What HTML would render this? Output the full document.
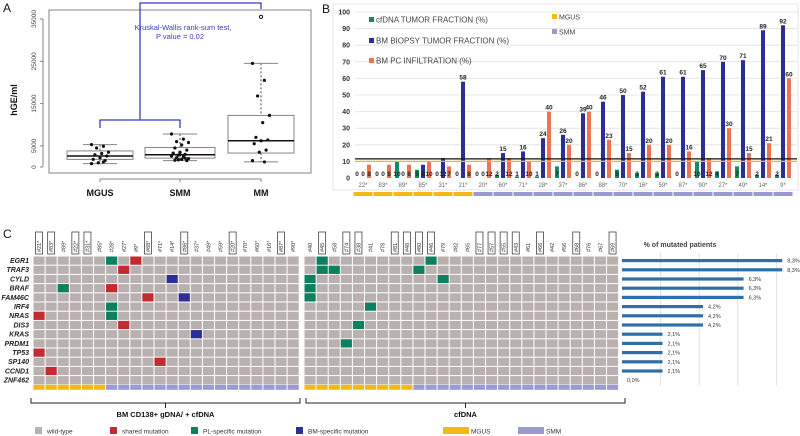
<!DOCTYPE html>
<html><head><meta charset="utf-8"><style>
body{margin:0;background:#fff}
svg{display:block;font-family:"Liberation Sans",Arial,sans-serif}
</style></head><body>
<svg id="fig" width="800" height="436" viewBox="0 0 800 436" xmlns="http://www.w3.org/2000/svg">
<g id="pA"></g>
<g id="pB"></g>
<g id="pC"></g>
</svg>
<script>
// ---------- Panel A data ----------
const aGroups = ["MGUS","SMM","MM"];
const aQ1 = [1800,2100,3300];
const aMed = [2600,2900,6200];
const aQ3 = [3800,4600,12200];
const aWlo = [800,1500,1200];
const aWhi = [5300,7800,24500];
const aPtsMGUS = [5300,4900,4500,3500,3200,2900,2600,2200,1800,1500,1000,800,1200];
const aPtsSMM = [7800,6600,6000,5800,5200,4500,4000,3500,3200,3000,2800,2600,2400,2200,2000,1800,1600,1500,2900,3300,2100,1700];
const aPtsMM = [24500,20500,16800,12200,10500,7000,6400,6200,5500,4000,3500,1500,1200];
const aOutliers = [0,0,35500];
const aTicks = [0,5000,15000,25000,35000];

// ---------- Panel B data ----------
const bCats = ["22*","83*","89*","85*","31*","21*","20*","60*","71*","28*","37*","86*","88*","70*","16*","59*","87*","90*","27*","49*","14*","9*"];
const bCfDNA = [0,0,10,5,0,0,0,2,1,1,7,0,0,5,3,3,0,10,4,7,2,2];
const bBM = [0,0,0,8,12,58,0,15,16,24,26,39,46,50,52,61,61,65,70,71,89,92];
const bPC = [8,8,8,10,7,8,12,12,10,40,20,40,23,15,20,20,16,12,30,15,21,60];
const bGroup = ["M","M","M","M","M","M","S","S","S","S","S","S","S","S","S","S","S","S","S","S","S","S"];
const bTicks = [0,10,20,30,40,50,60,70,80,90,100];
const bRefBlack = 11.5, bRefOrange = 10;

// ---------- Panel C data ----------
const cGenes = ["EGR1","TRAF3","CYLD","BRAF","FAM46C","IRF4","NRAS","DIS3","KRAS","PRDM1","TP53","SP140","CCND1","ZNF462"];
const cLeftPts = ["#21*","#83*","#89*","#22*","#31*","#85*","#28*","#27*","#9*","#88*","#71*","#14*","#86*","#37*","#49*","#59*","#20*","#70*","#60*","#16*","#87*","#90*"];
const cLeftBoxed = [0,1,3,4,9,12,16,20];
const cRightPts = ["#40","#45","#58","#74","#38","#41","#78","#81","#48","#80","#46","#79","#82","#65","#77","#57","#55","#43","#61","#66","#42","#56","#68","#76","#67","#69"];
const cRightBoxed = [1,3,4,7,8,9,10,14,15,16,17,19,22,25];
const cLeftMGUS = 6, cRightMGUS = 9;
const cLeftMut = [[0,6,"g"],[0,8,"r"],[1,7,"r"],[2,11,"b"],[3,2,"g"],[3,6,"r"],[4,9,"r"],[4,12,"b"],[5,6,"g"],[6,0,"r"],[6,6,"g"],[7,7,"r"],[8,13,"b"],[10,0,"r"],[11,10,"r"],[12,1,"r"]];
const cRightMut = [[0,1,"g"],[0,10,"g"],[1,1,"g"],[1,2,"g"],[1,9,"g"],[2,0,"g"],[2,11,"g"],[3,0,"g"],[4,0,"g"],[5,5,"g"],[7,4,"g"],[9,3,"g"]];
const cPct = [8.3,8.3,6.3,6.3,6.3,4.2,4.2,4.2,2.1,2.1,2.1,2.1,2.1,0.0];

const NS="http://www.w3.org/2000/svg";
function mk(parent,tag,attrs,text){const e=document.createElementNS(NS,tag);for(const k in attrs)e.setAttribute(k,attrs[k]);if(text!==undefined)e.textContent=text;parent.appendChild(e);return e;}

// ---------- Panel A ----------
const A=document.getElementById('pA');
const yA=v=>167-v*148/35000;
const xA=[100,180,261];
let t=mk(A,'text',{x:3,y:12,'font-size':12,fill:'#111'},'A');

let fr=mk(A,'rect',{x:49,y:10,width:262,height:163,fill:'none',stroke:'#8a8282','stroke-width':1});

mk(A,'line',{x1:43,x2:43,y1:yA(0),y2:yA(35000),stroke:'#8a8282'});
aTicks.forEach(v=>{
  mk(A,'line',{x1:40,x2:43,y1:yA(v),y2:yA(v),stroke:'#8a8282'});
  const tl=mk(A,'text',{x:36,y:yA(v),'font-size':6.5,fill:'#444','text-anchor':'middle',transform:`rotate(-90 36 ${yA(v)})`},String(v));
  
});
t=mk(A,'text',{x:17,y:100,'font-size':9,'font-weight':'bold',fill:'#111','text-anchor':'middle',transform:'rotate(-90 17 100)'},'hGE/ml');

mk(A,'line',{x1:xA[0],x2:xA[2],y1:179,y2:179,stroke:'#8a8282'});
const ptsA=[aPtsMGUS,aPtsSMM,aPtsMM];
aGroups.forEach((g,i)=>{
  const x=xA[i],hw=[33,35,33][i];
  mk(A,'line',{x1:x,x2:x,y1:179,y2:182,stroke:'#8a8282'});
  const gl=mk(A,'text',{x:x,y:196,'font-size':9,'font-weight':'bold','text-anchor':'middle',fill:'#111'},g);
  
  mk(A,'line',{x1:x,x2:x,y1:yA(aWhi[i]),y2:yA(aQ3[i]),stroke:'#444','stroke-dasharray':'2,2'});
  mk(A,'line',{x1:x,x2:x,y1:yA(aQ1[i]),y2:yA(aWlo[i]),stroke:'#444','stroke-dasharray':'2,2'});
  mk(A,'line',{x1:x-17,x2:x+17,y1:yA(aWhi[i]),y2:yA(aWhi[i]),stroke:'#8a8282'});
  mk(A,'line',{x1:x-17,x2:x+17,y1:yA(aWlo[i]),y2:yA(aWlo[i]),stroke:'#8a8282'});
  const b=mk(A,'rect',{x:x-hw,y:yA(aQ3[i]),width:hw*2,height:yA(aQ1[i])-yA(aQ3[i]),fill:'#fff',stroke:'#8a8282'});
  
  mk(A,'line',{x1:x-hw,x2:x+hw,y1:yA(aMed[i]),y2:yA(aMed[i]),stroke:'#111','stroke-width':1.5});
  ptsA[i].forEach((v,j)=>{
    const dx=((j*7)%11-5)*1.7;
    const p=mk(A,'circle',{cx:x+dx,cy:yA(v),r:1.6,fill:'#111'});
    
  });
  if(aOutliers[i]){const o=mk(A,'circle',{cx:x,cy:yA(aOutliers[i]),r:1.6,fill:'#fff',stroke:'#111'});}
});
const br=mk(A,'path',{d:`M100 128 V120 H180 V128 M140 120 V3 H261 V9`,fill:'none',stroke:'#3b3bbd','stroke-width':1.3});

t=mk(A,'text',{x:183,y:30,'font-size':7.5,fill:'#3b3bbd','text-anchor':'middle'},'Kruskal-Wallis rank-sum test,');

t=mk(A,'text',{x:180,y:39,'font-size':7.5,fill:'#3b3bbd','text-anchor':'middle'},'P value = 0.02');


// ---------- Panel B ----------
const B=document.getElementById('pB');
const yB=v=>178-v*1.66;
const xB=i=>363+i*20;
t=mk(B,'text',{x:322,y:13,'font-size':12,fill:'#111'},'B');

mk(B,'rect',{x:333,y:4,width:465,height:186,fill:'none',stroke:'#e6e6e6'});
bTicks.forEach(v=>{
  if(v>0)mk(B,'line',{x1:355,x2:797,y1:yB(v),y2:yB(v),stroke:'#e4e4e4'});
  const tl=mk(B,'text',{x:350,y:yB(v)+2.5,'font-size':7,'font-weight':'bold',fill:'#333','text-anchor':'end'},String(v));
  
});
bCats.forEach((c,i)=>{
  const x=xB(i);
  const series=[[bCfDNA[i],-6,'#18886a','bar-cfdna'],[bBM[i],0,'#2b2e96','bar-bm-biopsy'],[bPC[i],6,'#ee7355','bar-pc-infiltration']];
  series.forEach(([v,o,col,nm])=>{
    const r=mk(B,'rect',{x:x+o-2,y:yB(v),width:4,height:Math.max(0,178-yB(v)),fill:col});
    
    const vl=mk(B,'text',{x:x+o,y:v>12?yB(v)-2:176,'font-size':6.5,'font-weight':'bold',fill:'#222','text-anchor':'middle'},String(v));
    
  });
  const cl=mk(B,'text',{x:x,y:187,'font-size':6,fill:'#666','text-anchor':'middle'},c);
  
  const s=mk(B,'rect',{x:x-9.5,y:192,width:19,height:4,fill:bGroup[i]==='M'?'#f7b813':'#9b98d6'});
  
});
let rl=mk(B,'line',{x1:355,x2:797,y1:yB(bRefBlack),y2:yB(bRefBlack),stroke:'#111','stroke-width':1.2});

rl=mk(B,'line',{x1:355,x2:797,y1:yB(bRefOrange),y2:yB(bRefOrange),stroke:'#f7b813','stroke-width':1.2});

[['cfDNA TUMOR FRACTION (%)','#18886a',21],['BM BIOPSY TUMOR FRACTION (%)','#2b2e96',42],['BM PC INFILTRATION (%)','#ee7355',62],['MGUS','#f7b813',18,552],['SMM','#9b98d6',33,552]].forEach(([l,c,y,x0])=>{
  const x=x0||369;
  const g=mk(B,'g',{});
  mk(g,'rect',{x:x,y:y-4,width:5,height:5,fill:c});
  mk(g,'text',{x:x+7,y:y+1.5,'font-size':x0?7:8,fill:'#444'},l);
});

// ---------- Panel C ----------
const C=document.getElementById('pC');
t=mk(C,'text',{x:3,y:238,'font-size':12,fill:'#111'},'C');

const cw=12.1, rh=9.2, hTop=256;
const mcol={r:'#c42a30',g:'#0d8060',b:'#2b2f96'};
function heat(x0,pts,boxed,muts,nMGUS,nm){
  const g=mk(C,'g',{});
  mk(g,'rect',{x:x0,y:hTop,width:pts.length*cw,height:cGenes.length*rh,fill:'#fff'});
  cGenes.forEach((gn,r)=>pts.forEach((p,c)=>{
    const cell=mk(g,'rect',{x:x0+c*cw+0.5,y:hTop+r*rh+0.5,width:cw-1,height:rh-1,fill:'#b9b0b0'});
    
  }));
  muts.forEach(([r,c,ty])=>{
    const cell=mk(g,'rect',{x:x0+c*cw+0.5,y:hTop+r*rh+0.5,width:cw-1,height:rh-1,fill:mcol[ty]});
    
  });
  pts.forEach((p,c)=>{
    const cx=x0+c*cw+cw/2;
    const s=mk(g,'rect',{x:x0+c*cw+0.5,y:hTop+cGenes.length*rh,width:cw-1,height:5,fill:c<nMGUS?'#f7b813':'#9b98d6'});
    
    if(boxed.includes(c))mk(g,'rect',{x:cx-3.5,y:232,width:7,height:22,fill:'none',stroke:'#444','stroke-width':0.8});
    const pl=mk(g,'text',{x:cx+2,y:252,'font-size':5.5,fill:'#333',transform:`rotate(-90 ${cx+2} 252)`},p);
    
  });
}
heat(33,cLeftPts,cLeftBoxed,cLeftMut,cLeftMGUS,'heatmap-bm-cfdna');
heat(304,cRightPts,cRightBoxed,cRightMut,cRightMGUS,'heatmap-cfdna');
cGenes.forEach((gn,r)=>{
  const gl=mk(C,'text',{x:29,y:hTop+r*rh+7,'font-size':7,'font-weight':'bold','font-style':'italic',fill:'#222','text-anchor':'end'},gn);
  
});
const xP=v=>622+v*19.3;
[2,4,6,8].forEach(v=>{mk(C,'line',{x1:xP(v),x2:xP(v),y1:253,y2:386,stroke:'#e2e2e2'});});
t=mk(C,'text',{x:680,y:247,'font-size':7,'font-weight':'bold',fill:'#444','text-anchor':'middle'},'% of mutated patients');

cPct.forEach((v,r)=>{
  const y=hTop+r*rh+rh/2;
  const b=mk(C,'rect',{x:622,y:y-1.6,width:xP(v)-622,height:3.2,fill:'#2f6fa8'});
  
  const l=mk(C,'text',{x:xP(v)+5,y:y+2,'font-size':5.5,fill:'#333'},v.toFixed(1).replace('.',',')+'%');
  
});
[[31,300,'BM CD138+ gDNA/ + cfDNA'],[306,625,'cfDNA']].forEach(([a,b,l])=>{
  const g=mk(C,'g',{});
  const m=(a+b)/2;
  mk(g,'path',{d:`M${a} 398 V403 H${b} V398 M${m} 403 V408`,fill:'none',stroke:'#222','stroke-width':1});
  mk(g,'text',{x:m,y:417,'font-size':7.5,'font-weight':'bold','text-anchor':'middle',fill:'#111'},l);
});
[['wild-type','#b9b0b0',35,7],['shared mutation','#c42a30',110,7],['PL-specific mutation','#0d8060',191,7],['BM-specific mutation','#2b2f96',296,7],['MGUS','#f7b813',443,26],['SMM','#9b98d6',518,26]].forEach(([l,c,x,w])=>{
  const g=mk(C,'g',{});
  mk(g,'rect',{x:x,y:427,width:w,height:7,fill:c});
  mk(g,'text',{x:x+w+(w>10?2:5),y:433.5,'font-size':6.5,fill:'#333'},l);
});
</script>
</body></html>
